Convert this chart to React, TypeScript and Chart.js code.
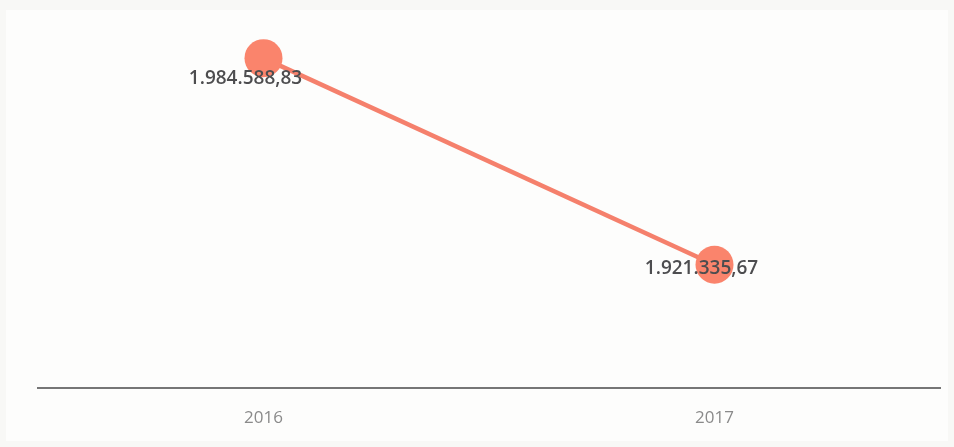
import React, { useEffect, useRef } from "react";
import { Chart, registerables } from "chart.js";

Chart.register(...registerables);

const categories = ["2016", "2017"];
const values = [1984588.83, 1921335.67];
const yMin = 1883570;
const yMax = 2000863;

const fmt = (v: number) =>
  v.toLocaleString("de-DE", { minimumFractionDigits: 2, maximumFractionDigits: 2 });

const labelPlugin = {
  id: "pointLabels",
  afterDatasetsDraw(chart: any) {
    const ctx = chart.ctx;
    const meta = chart.getDatasetMeta(0);
    ctx.save();
    ctx.font = "600 19px 'Open Sans', sans-serif";
    ctx.fillStyle = "#4d4d4f";
    ctx.textAlign = "center";
    ctx.textBaseline = "middle";
    meta.data.forEach((pt: any, i: number) => {
      const dx = i === 0 ? -18 : -13;
      const dy = i === 0 ? 20 : 4;
      ctx.fillText(fmt(values[i]), pt.x + dx, pt.y + dy);
    });
    ctx.restore();
  },
};

const bgPlugin = {
  id: "bg",
  beforeDraw(chart: any) {
    const { ctx, width, height } = chart;
    ctx.save();
    ctx.fillStyle = "#f8f8f6";
    ctx.fillRect(0, 0, width, height);
    ctx.fillStyle = "#fdfdfc";
    ctx.fillRect(6, 10, width - 12, height - 16);
    ctx.restore();
  },
};

export default function App() {
  const ref = useRef<HTMLCanvasElement>(null);
  useEffect(() => {
    document.body.style.margin = "0";
    const chart = new Chart(ref.current!, {
      type: "line",
      data: {
        labels: categories,
        datasets: [
          {
            data: values,
            borderColor: "#f5806c",
            backgroundColor: "#fa846c",
            borderWidth: 4.5,
            pointRadius: 19,
            pointBorderWidth: 0,
            pointBackgroundColor: "#fa846c",
            clip: false as any,
          },
        ],
      },
      options: {
        animation: false,
        responsive: false,
        maintainAspectRatio: false,
        layout: { autoPadding: false, padding: { left: 38, right: 14, top: 5, bottom: 0 } },
        plugins: { legend: { display: false }, tooltip: { enabled: false } },
        scales: {
          x: {
            offset: true,
            grid: { display: false, drawTicks: false },
            border: { color: "#767676", width: 2 },
            ticks: {
              color: "#8a8a8a",
              font: { family: "'Open Sans', sans-serif", size: 17 },
              padding: 20,
            },
            afterFit: (scale: any) => {
              scale.height = 59;
            },
          },
          y: { display: false, min: yMin, max: yMax },
        },
      },
      plugins: [bgPlugin, labelPlugin],
    });
    return () => chart.destroy();
  }, []);
  return <canvas ref={ref} width={954} height={447} style={{ display: "block" }} />;
}
